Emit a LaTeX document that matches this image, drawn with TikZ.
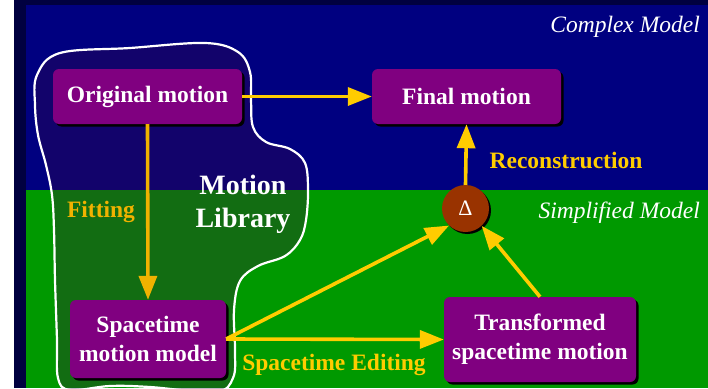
\documentclass[tikz,border=0pt]{standalone}
\usepackage{fontspec}
\setmainfont{Liberation Serif}
\usetikzlibrary{arrows.meta,shadows}
\definecolor{navy}{HTML}{000080}
\definecolor{darknavy}{HTML}{000040}
\definecolor{bggreen}{HTML}{009900}
\definecolor{boxpurple}{HTML}{800080}
\definecolor{blobtint}{RGB}{60,10,60}
\definecolor{arrowyellow}{HTML}{FFCC00}
\definecolor{fitorange}{RGB}{240,178,0}
\definecolor{deltabrown}{HTML}{993300}
\pgfdeclarelayer{bg}
\pgfdeclarelayer{blob}
\pgfsetlayers{bg,blob,main}
\begin{document}
\begin{tikzpicture}[x=1pt,y=-1pt,
 box/.style={rectangle, rounded corners=6pt, fill=boxpurple, text=white,
   font=\fontsize{23.5}{29}\selectfont\bfseries, align=center, inner sep=0pt,
   drop shadow={shadow xshift=2.5pt, shadow yshift=-2.5pt, fill=black, opacity=1}},
 flow/.style={draw=arrowyellow, line width=3.6pt, -{Triangle[length=24pt,width=18pt]}},
 lbl/.style={text=arrowyellow, font=\fontsize{23.5}{28}\selectfont\bfseries, inner sep=0pt},
 region/.style={text=white, font=\fontsize{23.5}{28}\selectfont\itshape, inner sep=0pt, anchor=east}]
\useasboundingbox (0,0) rectangle (708,388);
\begin{pgfonlayer}{bg}
\fill[white] (0,0) rectangle (708,388);
\fill[darknavy] (14,0) rectangle (708,388);
\fill[navy] (26,5) rectangle (708,190);
\fill[bggreen] (26,190) rectangle (708,388);
\end{pgfonlayer}

% nodes
\node[box, minimum width=189pt, minimum height=55pt] (orig) at (147.5,96.5) {Original motion};
\node[box, minimum width=189pt, minimum height=55pt] (final) at (466.5,96.5) {Final motion};
\node[box, minimum width=156pt, minimum height=78pt] (stm) at (148,339) {Spacetime\\motion model};
\node[box, minimum width=192pt, minimum height=85pt] (trans) at (540,339.5) {Transformed\\spacetime motion};
\node[circle, fill=deltabrown, minimum size=47pt, inner sep=0pt, text=white,
  font=\fontsize{22}{24}\selectfont,
  drop shadow={shadow xshift=2pt, shadow yshift=-2pt, fill=black, opacity=1}] (delta) at (465.5,208.5) {Δ};

% blob (motion library)
\begin{pgfonlayer}{blob}
\begin{scope}
\clip (0,0) rectangle (708,388);
\draw[white, line width=2.2pt, fill=blobtint, fill opacity=0.3]
  plot[smooth cycle, tension=0.6] coordinates {
  (60,53) (130,48) (205,43) (238,52) (250,72) (251,100) (253,127) (266,142)
  (290,149) (305,163) (308,190) (306,220) (300,240) (285,256) (258,266)
  (240,281) (234,310) (235,350) (233,378) (215,392) (150,387) (110,386) (70,390)
  (58,378) (57,340) (55,280) (54,230) (52,195) (46,165) (38,135) (35,105) (37,75)};
\end{scope}
\node[text=white, font=\fontsize{28}{33}\selectfont\bfseries, align=center, inner sep=0pt] (lib) at (243,204) {Motion\\Library};
\end{pgfonlayer}

% connectors
\draw[flow, draw=fitorange] (orig.south) -- (stm.north);
\draw[flow] (orig.east) -- (final.west);
\draw[flow] (delta.north) -- (final.south);
\draw[flow] (stm.east) -- (trans.west);
\draw[flow] (stm.east) -- (delta.226);
\draw[flow] (trans.north) -- (delta.313);

% labels
\node[lbl, text=fitorange] (fit) at (101,212) {Fitting};
\node[lbl] (rec) at (566,160) {Reconstruction};
\node[lbl] (edit) at (334,365) {Spacetime Editing};
\node[region] (cm) at (700,27) {Complex Model};
\node[region] (sm) at (700,213) {Simplified Model};
\end{tikzpicture}
\end{document}
